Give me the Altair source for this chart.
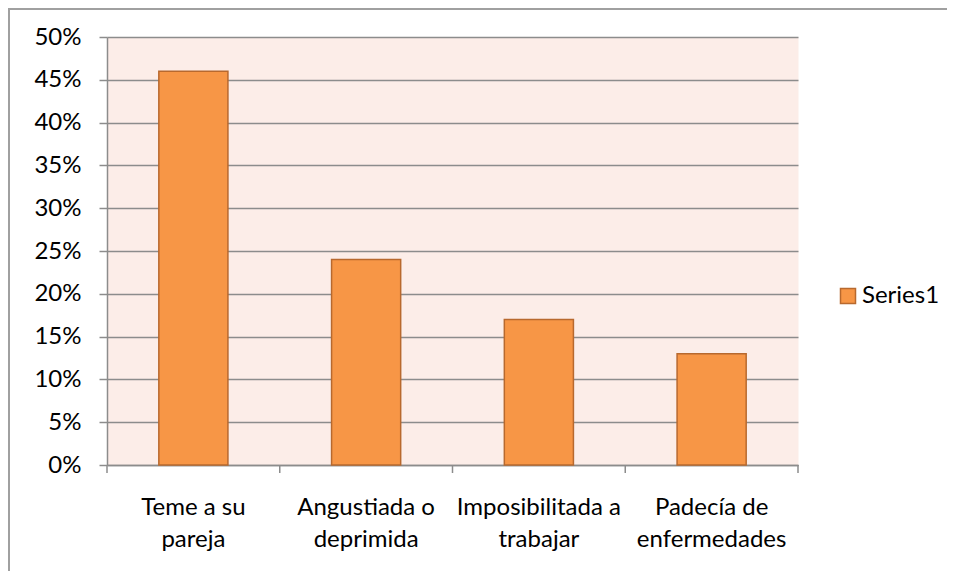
import altair as alt
import pandas as pd

categories = ["Teme a su\npareja", "Angustiada o\ndeprimida", "Imposibilitada a\ntrabajar", "Padecía de\nenfermedades"]
values = [0.46, 0.24, 0.17, 0.13]
series = ["Series1"] * 4
y_ticks = [0, 0.05, 0.10, 0.15, 0.20, 0.25, 0.30, 0.35, 0.40, 0.45, 0.50]

df = pd.DataFrame({"cat": categories, "val": values, "series": series})

FONT = "Lato"
FS = 24
W, H = 691, 428
GRAY = "#8C8C8C"
P_IN, P_OUT = 0.6, 0.3
STEP = W / (len(categories) - P_IN + 2 * P_OUT)

xscale = alt.Scale(domain=categories, paddingInner=P_IN, paddingOuter=P_OUT)

bars = alt.Chart(df).mark_bar(stroke="#B8692E", strokeWidth=1.5).encode(
    x=alt.X(
        "cat:N",
        sort=categories,
        scale=xscale,
        axis=alt.Axis(
            title=None,
            labelAngle=0,
            labelExpr="split(datum.label, '\\n')",
            labelFont=FONT,
            labelFontSize=FS,
            labelColor="#000000",
            labelLineHeight=32,
            labelPadding=30,
            labelBaseline="top",
            ticks=False,
            domainColor=GRAY,
            domainWidth=1.5,
            grid=False,
        ),
    ),
    y=alt.Y(
        "val:Q",
        scale=alt.Scale(domain=[0, 0.5], nice=False),
        axis=alt.Axis(
            title=None,
            values=y_ticks,
            format=".0%",
            labelFont=FONT,
            labelFontSize=FS,
            labelColor="#000000",
            labelPadding=18,
            tickSize=8,
            tickColor=GRAY,
            tickWidth=1.5,
            domainColor=GRAY,
            domainWidth=1.5,
            grid=True,
            gridColor=GRAY,
            gridWidth=1.5,
        ),
    ),
    color=alt.Color(
        "series:N",
        scale=alt.Scale(range=["#F79646"]),
        legend=alt.Legend(
            title=None,
            orient="none",
            legendX=729,
            legendY=247,
            symbolType="square",
            symbolSize=225,
            symbolStrokeColor="#B8692E",
            symbolStrokeWidth=1.5,
            symbolFillColor="#F79646",
            symbolOpacity=1,
            labelFont=FONT,
            labelFontSize=FS,
            labelColor="#000000",
            labelOffset=2,
        ),
    ),
)

# category-boundary ticks below the x axis
xticks = alt.Chart(df).mark_rule(color=GRAY, strokeWidth=1.5, xOffset=-P_IN * STEP / 2).encode(
    x=alt.X("cat:N", sort=categories, scale=xscale, bandPosition=0),
    y=alt.value(H),
    y2=alt.value(H + 8),
)
frame = alt.Data(values=[{"k": 1}])
end_tick = alt.Chart(frame).mark_rule(color=GRAY, strokeWidth=1.5).encode(
    x=alt.value(W), x2=alt.value(W), y=alt.value(H), y2=alt.value(H + 8)
)

left_border = alt.Chart(frame).mark_rule(color="#A0A0A0", strokeWidth=2).encode(
    x=alt.value(-98), x2=alt.value(-98), y=alt.value(-28), y2=alt.value(560)
)
top_border = alt.Chart(frame).mark_rule(color="#A0A0A0", strokeWidth=2).encode(
    x=alt.value(-99), x2=alt.value(860), y=alt.value(-28), y2=alt.value(-28)
)

chart = alt.layer(bars, xticks, end_tick, left_border, top_border).properties(
    width=W,
    height=H,
    autosize=alt.AutoSizeParams(type="none"),
    padding={"left": 99, "top": 29, "right": 149, "bottom": 106},
    background="white",
).configure_view(fill="#FCEDE8", stroke="transparent")

chart.save("out.html", embed_options={"renderer": "svg", "actions": False})
